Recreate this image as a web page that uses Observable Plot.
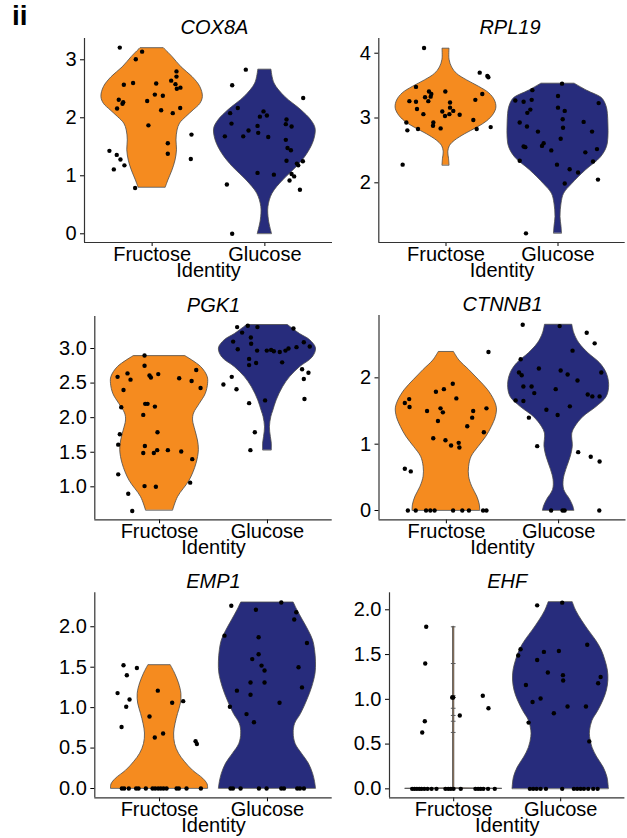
<!DOCTYPE html>
<html><head><meta charset="utf-8">
<script src="https://cdn.jsdelivr.net/npm/d3@7"></script>
<script src="https://cdn.jsdelivr.net/npm/@observablehq/plot@0.6"></script>
<style>
body{margin:0;background:#fff;}
#chart{position:relative;width:627px;height:838px;font-family:"Liberation Sans",Arial,sans-serif;}
#chart .panel{position:absolute;}
#tag{position:absolute;left:12px;top:0px;font-weight:bold;font-size:28px;font-family:"Liberation Sans",Arial,sans-serif;}
</style></head><body>
<div id="chart"><div id="tag">ii</div></div>
<script>
const genes = ["COX8A", "RPL19", "PGK1", "CTNNB1", "EMP1", "EHF"];
const identities = ["Fructose", "Glucose"];
const colors = ["#F58B1F", "#272C7C"];

// ---------- COX8A ----------
const cox8aTicks = [0, 1, 2, 3];
const cox8aFruViolinY = [0.80, 0.92, 1.09, 1.26, 1.44, 1.61, 1.78, 1.90, 2.01, 2.13, 2.24, 2.36, 2.53, 2.70, 2.87, 3.05, 3.20];
const cox8aFruViolinW = [0.27, 0.32, 0.40, 0.46, 0.49, 0.48, 0.50, 0.55, 0.67, 0.82, 0.95, 1.0, 0.95, 0.80, 0.58, 0.40, 0.23];
const cox8aGluViolinY = [0, 0.23, 0.46, 0.69, 0.92, 1.15, 1.38, 1.61, 1.81, 1.95, 2.13, 2.36, 2.59, 2.83];
const cox8aGluViolinW = [0.14, 0.08, 0.07, 0.15, 0.36, 0.63, 0.84, 0.97, 1.0, 0.92, 0.72, 0.40, 0.19, 0.13];
const cox8aFruY = [3.21,3.14,3.01,2.80,2.71,2.59,2.60,2.57,2.64,2.58,2.52,2.50,2.31,2.27,2.24,2.16,2.29,2.40,2.38,2.13,2.08,2.17,1.87,1.56,1.38,1.71,1.29,1.43,1.36,1.28,1.18,1.11,0.79];
const cox8aFruJitter = [-0.287,-0.089,-0.145,0.216,0.216,0.036,-0.169,-0.251,0.169,0.207,0.251,0.219,-0.296,-0.257,-0.263,-0.311,-0.044,0.024,0.095,0.080,0.183,0.249,-0.033,0.139,0.139,0.349,0.343,-0.379,-0.314,-0.281,-0.246,-0.340,-0.151];
const cox8aGluY = [2.83,2.56,2.34,2.17,2.08,2.11,2.02,2.04,1.97,1.90,1.89,1.85,1.86,1.78,1.74,1.68,1.68,1.67,1.62,1.48,1.44,1.26,1.25,1.21,1.18,1.05,1.02,1.03,0.99,0.92,0.85,0.76,0.00];
const cox8aGluJitter = [-0.169,-0.290,0.340,-0.240,-0.308,-0.012,-0.044,0.018,0.192,-0.296,0.186,0.237,-0.065,-0.145,-0.059,-0.355,-0.192,0.030,0.186,0.201,0.231,0.192,0.337,0.284,0.296,-0.065,0.080,0.237,0.260,0.219,-0.337,0.311,-0.290];

// ---------- RPL19 ----------
const rpl19Ticks = [2, 3, 4];
const rpl19FruViolinY = [2.27, 2.37, 2.47, 2.57, 2.65, 2.75, 2.85, 2.95, 3.06, 3.16, 3.27, 3.38, 3.48, 3.58, 3.68, 3.78, 3.90, 4.07];
const rpl19FruViolinW = [0.07, 0.06, 0.045, 0.08, 0.18, 0.38, 0.62, 0.82, 0.95, 1.0, 0.97, 0.86, 0.66, 0.42, 0.22, 0.12, 0.07, 0.07];
const rpl19GluViolinY = [1.22, 1.32, 1.47, 1.68, 1.83, 1.98, 2.19, 2.39, 2.55, 2.70, 2.90, 3.06, 3.16, 3.27, 3.32, 3.42, 3.53];
const rpl19GluViolinW = [0.08, 0.07, 0.05, 0.07, 0.12, 0.28, 0.55, 0.85, 0.97, 1.0, 1.0, 0.99, 0.97, 0.91, 0.85, 0.58, 0.33];
const rpl19FruY = [4.08,3.70,3.65,3.63,3.48,3.41,3.37,3.32,3.26,3.33,3.41,3.26,3.25,3.37,3.28,3.24,3.14,3.16,3.11,3.10,3.06,3.06,3.05,3.03,2.93,2.93,2.88,2.97,2.81,2.83,2.84,2.83,2.86,2.28];
const rpl19FruJitter = [-0.196,0.301,0.369,0.378,-0.268,-0.152,-0.131,-0.187,-0.158,-0.137,-0.006,-0.327,-0.268,0.324,0.262,0.036,-0.259,0.036,0.065,-0.033,-0.202,0.030,0.122,-0.009,-0.354,-0.113,-0.116,0.244,-0.345,-0.250,-0.048,0.274,0.399,-0.387];
const rpl19GluY = [3.53,3.43,3.27,3.25,3.28,3.34,3.16,3.11,3.23,3.13,3.08,2.98,2.93,2.87,2.94,2.85,2.79,2.79,2.68,2.61,2.57,2.56,2.55,2.50,2.52,2.47,2.34,2.33,2.28,2.21,2.16,1.99,2.05,1.22];
const rpl19GluJitter = [0.036,-0.229,-0.381,-0.307,-0.235,0,0,0.060,0.363,-0.247,-0.274,0.042,-0.342,-0.277,0.229,0.045,-0.179,0.304,0.024,-0.128,-0.143,-0.307,-0.292,-0.060,0.348,0.244,-0.342,0.313,-0.009,0.104,0.179,0.060,0.357,-0.286];

// ---------- PGK1 ----------
const pgk1Ticks = [1.0, 1.5, 2.0, 2.5, 3.0];
const pgk1FruViolinY = [0.66, 0.85, 1.09, 1.33, 1.53, 1.67, 1.81, 1.96, 2.06, 2.20, 2.34, 2.49, 2.59, 2.73, 2.89];
const pgk1FruViolinW = [0.28, 0.38, 0.62, 0.76, 0.81, 0.79, 0.74, 0.69, 0.71, 0.83, 0.95, 1.0, 0.99, 0.86, 0.53];
const pgk1GluViolinY = [1.53, 1.62, 1.72, 1.86, 2.01, 2.10, 2.25, 2.44, 2.59, 2.73, 2.87, 3.00, 3.12, 3.21, 3.34];
const pgk1GluViolinW = [0.09, 0.09, 0.07, 0.05, 0.08, 0.12, 0.19, 0.32, 0.47, 0.67, 0.93, 1.0, 0.88, 0.67, 0.42];
const pgk1FruY = [2.90,2.75,2.59,2.64,2.55,2.61,2.58,2.63,2.57,2.69,2.53,2.43,2.40,2.15,2.20,2.20,2.16,2.04,1.76,1.79,1.61,1.59,1.49,1.49,1.53,1.53,1.51,1.40,1.18,1.06,1.01,1.00,0.90,0.65];
const pgk1FruJitter = [-0.139,-0.139,-0.389,-0.297,-0.269,-0.093,-0.080,-0.012,0.182,0.340,0.297,0.380,-0.334,-0.355,-0.133,-0.111,-0.043,-0.151,-0.368,-0.019,-0.383,-0.136,-0.151,-0.053,-0.022,0.077,0.201,0.303,-0.383,0.284,-0.139,-0.034,-0.290,-0.253];
const pgk1GluY = [3.31,3.33,3.31,3.29,3.23,3.16,3.07,3.10,2.99,2.97,2.97,2.98,2.96,2.95,2.97,3.00,3.02,3.09,3.03,2.85,2.79,2.80,2.76,2.59,2.48,2.41,2.70,2.65,2.56,2.27,2.25,2.21,1.79,1.53];
const pgk1GluJitter = [-0.281,-0.182,-0.093,0.241,-0.235,-0.154,-0.151,-0.318,-0.275,-0.006,-0.096,0.034,0.059,0.114,0.167,0.195,0.269,0.337,0.392,-0.170,-0.105,0.136,-0.170,-0.331,-0.408,-0.287,0.321,0.380,0.337,0.343,-0.022,-0.170,-0.117,-0.158];

// ---------- CTNNB1 ----------
const ctnnb1Ticks = [0, 1, 2];
const ctnnb1FruViolinY = [0, 0.09, 0.21, 0.36, 0.51, 0.66, 0.81, 0.96, 1.11, 1.26, 1.41, 1.54, 1.66, 1.82, 1.97, 2.12, 2.26, 2.39];
const ctnnb1FruViolinW = [0.67, 0.66, 0.61, 0.51, 0.45, 0.45, 0.50, 0.64, 0.79, 0.90, 0.98, 1.0, 0.95, 0.82, 0.64, 0.45, 0.26, 0.15];
const ctnnb1GluViolinY = [0, 0.06, 0.16, 0.31, 0.46, 0.61, 0.81, 0.96, 1.16, 1.26, 1.41, 1.56, 1.71, 1.89, 2.07, 2.22, 2.37, 2.52, 2.67, 2.80];
const ctnnb1GluViolinW = [0.31, 0.29, 0.23, 0.11, 0.10, 0.15, 0.24, 0.28, 0.27, 0.33, 0.49, 0.75, 0.95, 1.0, 0.95, 0.82, 0.59, 0.41, 0.31, 0.27];
const ctnnb1FruY = [2.39,1.91,1.83,1.79,1.68,1.62,1.56,1.69,1.54,1.48,1.50,1.50,1.54,1.40,1.35,1.27,1.18,1.09,1.06,0.98,1.02,0.95,0.63,0.59,0,0,0,0,0,0,0,0,0,0];
const ctnnb1FruJitter = [0.375,0.057,-0.022,-0.093,-0.331,-0.370,-0.328,0.089,-0.052,-0.031,-0.172,0.239,0.357,0.230,-0.075,0.186,0.334,-0.117,-0.008,0.042,0.110,0.116,-0.370,-0.317,-0.343,-0.273,-0.181,-0.143,-0.105,0.060,0.142,0.201,0.327,0.357];
const ctnnb1GluY = [2.80,2.78,2.68,2.52,2.41,2.28,2.14,2.08,2.04,2.11,2.05,2.08,1.96,1.87,1.87,1.77,1.83,1.66,1.65,1.75,1.72,1.72,1.52,1.57,1.44,1.40,0.97,0.88,0.81,0.74,0,0,0,0];
const ctnnb1GluJitter = [-0.320,0.009,0.250,0.321,0.124,-0.338,-0.176,-0.353,-0.329,0.018,0.080,0.380,0.168,-0.314,-0.241,-0.217,-0.026,-0.383,-0.314,0.259,0.300,0.365,-0.109,0.100,-0.009,-0.265,-0.191,0.174,0.286,0.365,-0.067,0.035,0.053,0.362];

// ---------- EMP1 ----------
const emp1Ticks = [0.0, 0.5, 1.0, 1.5, 2.0];
const emp1FruViolinY = [0, 0.05, 0.12, 0.22, 0.33, 0.43, 0.55, 0.68, 0.80, 0.92, 1.05, 1.17, 1.30, 1.42, 1.525];
const emp1FruViolinW = [1.0, 0.99, 0.90, 0.69, 0.52, 0.40, 0.32, 0.30, 0.33, 0.38, 0.44, 0.45, 0.40, 0.32, 0.23];
const emp1GluViolinY = [0, 0.08, 0.18, 0.31, 0.43, 0.55, 0.68, 0.80, 0.92, 1.09, 1.25, 1.42, 1.56, 1.71, 1.83, 1.95, 2.08, 2.20, 2.30];
const emp1GluViolinW = [1.0, 0.98, 0.94, 0.85, 0.71, 0.58, 0.54, 0.57, 0.69, 0.82, 0.92, 0.99, 1.0, 0.98, 0.94, 0.85, 0.73, 0.62, 0.54];
const emp1FruY = [1.525,1.49,1.40,1.18,1.10,1.01,0.76,1.21,1.06,1.08,0.89,0.68,0.63,0.585,0.55,0,0,0,0,0,0,0,0,0,0,0,0,0,0,0,0];
const emp1FruJitter = [-0.334,-0.210,-0.303,-0.389,-0.278,-0.309,-0.352,-0.016,0.117,0.219,-0.093,0.033,-0.044,0.334,0.346,-0.349,-0.328,-0.285,-0.217,-0.195,-0.127,-0.065,-0.041,-0.013,0.012,0.037,0.065,0.158,0.179,0.250,0.383];
const emp1GluY = [2.26,2.30,2.21,2.18,2.09,1.89,1.87,1.80,1.66,1.60,1.52,1.46,1.50,1.31,1.31,1.25,1.21,1.16,1.06,1.01,0.92,0.82,0,0,0,0,0,0,0,0,0,0];
const emp1GluJitter = [-0.335,0.128,-0.107,0.267,0.248,-0.398,-0.082,0.366,-0.082,-0.141,-0.055,-0.027,0.288,-0.157,-0.027,0.320,-0.283,-0.157,0.112,-0.348,-0.194,-0.125,-0.342,-0.320,-0.249,-0.079,-0.008,0.128,0.153,0.276,0.301,0.338];

// ---------- EHF ----------
const ehfTicks = [0.0, 0.5, 1.0, 1.5, 2.0];
const ehfFruViolinY = [0, 0.006, 1.81];
const ehfFruViolinW = [1.0, 0.012, 0.012];
const ehfGluViolinY = [0, 0.06, 0.13, 0.24, 0.35, 0.46, 0.58, 0.65, 0.76, 0.87, 0.99, 1.10, 1.21, 1.32, 1.43, 1.55, 1.66, 1.77, 1.88, 1.99, 2.085];
const ehfGluViolinW = [1.0, 0.99, 0.97, 0.89, 0.76, 0.66, 0.61, 0.61, 0.66, 0.78, 0.89, 0.96, 0.99, 0.98, 0.93, 0.85, 0.73, 0.58, 0.44, 0.32, 0.25];
const ehfFruY = [1.81,1.40,1.02,1.02,0.82,0.755,0.63,1.04,0.90,0,0,0,0,0,0,0,0,0,0,0,0,0,0,0,0,0,0,0,0];
const ehfFruJitter = [-0.257,-0.266,-0.014,-0.005,0.057,-0.270,-0.294,0.272,0.325,-0.388,-0.366,-0.344,-0.322,-0.301,-0.275,-0.245,-0.207,-0.161,-0.077,-0.051,-0.027,-0.002,0.066,0.203,0.228,0.252,0.277,0.321,0.384];
const ehfGluY = [2.05,2.08,1.61,1.56,1.49,1.53,1.54,1.44,1.30,1.27,1.21,1.25,1.18,1.16,1.01,0.97,0.92,0.92,0.845,0.74,0.53,0,0,0,0,0,0,0,0,0,0,0,0,0];
const ehfGluJitter = [-0.220,0.014,0.248,-0.375,-0.397,-0.157,-0.017,-0.220,-0.120,0.021,0.023,0.373,0.350,-0.325,-0.188,-0.263,0.064,0.236,-0.064,-0.300,0.267,-0.288,-0.257,-0.225,-0.188,-0.138,0.014,0.123,0.154,0.186,0.217,0.257,0.304,0.345];

// ---------- layout (positions / styles only) ----------
const f1 = d3.format(".1f");
const panels = [
  {gene: genes[0], left: 0,   top: 0,   width: 340, height: 280, mt: 38, mb: 38,   ml: 84,   mr: 8,   yDomain: [-0.15, 3.367], ticks: cox8aTicks, fmt: d => d, titleDx: 6,
   groups: [[cox8aFruViolinY, cox8aFruViolinW, cox8aFruY, cox8aFruJitter], [cox8aGluViolinY, cox8aGluViolinW, cox8aGluY, cox8aGluJitter]]},
  {gene: genes[1], left: 340, top: 0,   width: 287, height: 280, mt: 38, mb: 38,   ml: 38.3, mr: 2.3, yDomain: [1.079, 4.227], ticks: rpl19Ticks, fmt: d => d, titleDx: 8,
   groups: [[rpl19FruViolinY, rpl19FruViolinW, rpl19FruY, rpl19FruJitter], [rpl19GluViolinY, rpl19GluViolinW, rpl19GluY, rpl19GluJitter]]},
  {gene: genes[2], left: 0,   top: 280, width: 340, height: 280, mt: 36, mb: 40.7, ml: 94.3, mr: 8.3, yDomain: [0.523, 3.463], ticks: pgk1Ticks, fmt: f1, titleDx: 0,
   groups: [[pgk1FruViolinY, pgk1FruViolinW, pgk1FruY, pgk1FruJitter], [pgk1GluViolinY, pgk1GluViolinW, pgk1GluY, pgk1GluJitter]]},
  {gene: genes[3], left: 340, top: 280, width: 287, height: 280, mt: 35, mb: 40.7, ml: 38.5, mr: 1.5, yDomain: [-0.14, 2.94], ticks: ctnnb1Ticks, fmt: d => d, titleDx: 0,
   groups: [[ctnnb1FruViolinY, ctnnb1FruViolinW, ctnnb1FruY, ctnnb1FruJitter], [ctnnb1GluViolinY, ctnnb1GluViolinW, ctnnb1GluY, ctnnb1GluJitter]]},
  {gene: genes[4], left: 0,   top: 560, width: 340, height: 278, mt: 32.3, mb: 40.7, ml: 94.3, mr: 8.3, yDomain: [-0.115, 2.42], ticks: emp1Ticks, fmt: f1, titleDx: 0,
   groups: [[emp1FruViolinY, emp1FruViolinW, emp1FruY, emp1FruJitter], [emp1GluViolinY, emp1GluViolinW, emp1GluY, emp1GluJitter]]},
  {gene: genes[5], left: 340, top: 560, width: 287, height: 278, mt: 32.3, mb: 40.7, ml: 49,   mr: 2.6, yDomain: [-0.10, 2.19], ticks: ehfTicks, fmt: f1, titleDx: 0, linearFirst: true,
   groups: [[ehfFruViolinY, ehfFruViolinW, ehfFruY, ehfFruJitter], [ehfGluViolinY, ehfGluViolinW, ehfGluY, ehfGluJitter]]}
];

const chart = document.getElementById("chart");
const xDomain = [0.4, 2.6];

for (const p of panels) {
  const marks = [];
  p.groups.forEach(([vy, vw, py, pj], gi) => {
    const c = gi + 1;
    const violin = vy.map((y, i) => ({y, x1: c - 0.45 * vw[i], x2: c + 0.45 * vw[i]}));
    const linear = p.linearFirst && gi === 0;
    marks.push(Plot.areaX(violin, {y: "y", x1: "x1", x2: "x2", fill: colors[gi], stroke: linear ? "#5a5a5a" : "#4a4a4a", strokeWidth: linear ? 1.0 : 0.8, curve: linear ? "linear" : "catmull-rom"}));
    if (linear) {
      const nz = py.filter(v => v > 0);
      marks.push(Plot.ruleY(nz, {y: d => d, x1: () => c - 0.022, x2: () => c + 0.022, stroke: "#5a5a5a", strokeWidth: 1}));
    }
  });
  p.groups.forEach(([vy, vw, py, pj], gi) => {
    const c = gi + 1;
    const pts = py.map((y, i) => ({y, x: c + pj[i]}));
    marks.push(Plot.dot(pts, {x: "x", y: "y", r: 2.2, fill: "black", stroke: "none"}));
  });
  marks.push(Plot.ruleX([xDomain[0]], {stroke: "#333", strokeWidth: 1.2}));
  marks.push(Plot.ruleY([p.yDomain[0]], {stroke: "#333", strokeWidth: 1.2}));
  marks.push(Plot.text([p.gene], {text: d => d, frameAnchor: "top", lineAnchor: "top", dy: -19, dx: p.titleDx, fontStyle: "italic", fontSize: 20}));
  marks.push(Plot.text(["Identity"], {text: d => d, frameAnchor: "bottom", lineAnchor: "top", dy: 20, fontSize: 20}));

  const svg = Plot.plot({
    width: p.width, height: p.height,
    marginTop: p.mt, marginBottom: p.mb, marginLeft: p.ml, marginRight: p.mr,
    style: {background: "transparent", fontFamily: "'Liberation Sans', Arial, sans-serif", fontSize: "20px", color: "black", overflow: "visible"},
    x: {domain: xDomain, ticks: [1, 2], tickFormat: d => identities[d - 1], tickSize: 4, tickPadding: 0, label: null},
    y: {domain: p.yDomain, ticks: p.ticks, tickFormat: p.fmt, tickSize: 4, tickPadding: 4, label: null},
    marks
  });
  const holder = document.createElement("div");
  holder.className = "panel";
  holder.style.left = p.left + "px";
  holder.style.top = p.top + "px";
  holder.appendChild(svg);
  chart.appendChild(holder);
}
</script>
</body></html>
